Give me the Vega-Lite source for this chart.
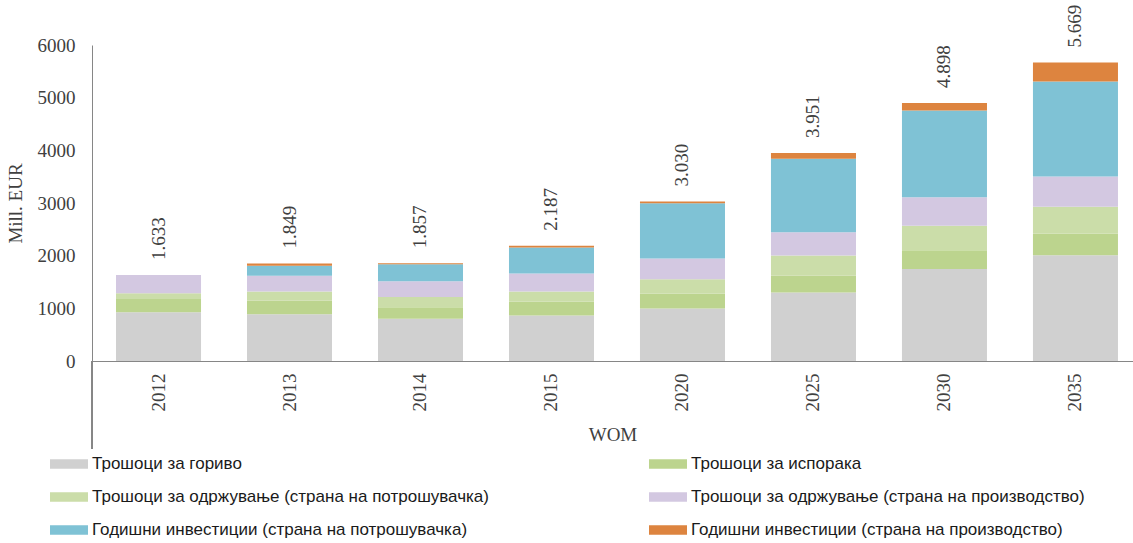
{
  "$schema": "https://vega.github.io/schema/vega-lite/v6.json",
  "width": 1041,
  "height": 316,
  "autosize": {"type": "none"},
  "padding": {"left": 92, "top": 45, "right": 0, "bottom": 182},
  "background": "white",
  "config": {
    "locale": {"number": {"decimal": ",", "thousands": ".", "grouping": [3], "currency": ["", " €"]}},
    "view": {"stroke": null},
    "font": "Liberation Serif"
  },
  "data": {"values": [
    {"year": 2012, "k": 1, "series": "Трошоци за гориво", "value": 925},
    {"year": 2012, "k": 2, "series": "Трошоци за испорака", "value": 250},
    {"year": 2012, "k": 3, "series": "Трошоци за одржување (страна на потрошувачка)", "value": 110},
    {"year": 2012, "k": 4, "series": "Трошоци за одржување (страна на производство)", "value": 348},
    {"year": 2012, "k": 5, "series": "Годишни инвестиции (страна на потрошувачка)", "value": 0},
    {"year": 2012, "k": 6, "series": "Годишни инвестиции (страна на производство)", "value": 0},
    {"year": 2013, "k": 1, "series": "Трошоци за гориво", "value": 890},
    {"year": 2013, "k": 2, "series": "Трошоци за испорака", "value": 255},
    {"year": 2013, "k": 3, "series": "Трошоци за одржување (страна на потрошувачка)", "value": 175},
    {"year": 2013, "k": 4, "series": "Трошоци за одржување (страна на производство)", "value": 300},
    {"year": 2013, "k": 5, "series": "Годишни инвестиции (страна на потрошувачка)", "value": 190},
    {"year": 2013, "k": 6, "series": "Годишни инвестиции (страна на производство)", "value": 39},
    {"year": 2014, "k": 1, "series": "Трошоци за гориво", "value": 800},
    {"year": 2014, "k": 2, "series": "Трошоци за испорака", "value": 220},
    {"year": 2014, "k": 3, "series": "Трошоци за одржување (страна на потрошувачка)", "value": 195},
    {"year": 2014, "k": 4, "series": "Трошоци за одржување (страна на производство)", "value": 300},
    {"year": 2014, "k": 5, "series": "Годишни инвестиции (страна на потрошувачка)", "value": 322},
    {"year": 2014, "k": 6, "series": "Годишни инвестиции (страна на производство)", "value": 20},
    {"year": 2015, "k": 1, "series": "Трошоци за гориво", "value": 865},
    {"year": 2015, "k": 2, "series": "Трошоци за испорака", "value": 265},
    {"year": 2015, "k": 3, "series": "Трошоци за одржување (страна на потрошувачка)", "value": 190},
    {"year": 2015, "k": 4, "series": "Трошоци за одржување (страна на производство)", "value": 340},
    {"year": 2015, "k": 5, "series": "Годишни инвестиции (страна на потрошувачка)", "value": 495},
    {"year": 2015, "k": 6, "series": "Годишни инвестиции (страна на производство)", "value": 32},
    {"year": 2020, "k": 1, "series": "Трошоци за гориво", "value": 995},
    {"year": 2020, "k": 2, "series": "Трошоци за испорака", "value": 285},
    {"year": 2020, "k": 3, "series": "Трошоци за одржување (страна на потрошувачка)", "value": 272},
    {"year": 2020, "k": 4, "series": "Трошоци за одржување (страна на производство)", "value": 395},
    {"year": 2020, "k": 5, "series": "Годишни инвестиции (страна на потрошувачка)", "value": 1048},
    {"year": 2020, "k": 6, "series": "Годишни инвестиции (страна на производство)", "value": 35},
    {"year": 2025, "k": 1, "series": "Трошоци за гориво", "value": 1300},
    {"year": 2025, "k": 2, "series": "Трошоци за испорака", "value": 320},
    {"year": 2025, "k": 3, "series": "Трошоци за одржување (страна на потрошувачка)", "value": 385},
    {"year": 2025, "k": 4, "series": "Трошоци за одржување (страна на производство)", "value": 440},
    {"year": 2025, "k": 5, "series": "Годишни инвестиции (страна на потрошувачка)", "value": 1395},
    {"year": 2025, "k": 6, "series": "Годишни инвестиции (страна на производство)", "value": 111},
    {"year": 2030, "k": 1, "series": "Трошоци за гориво", "value": 1745},
    {"year": 2030, "k": 2, "series": "Трошоци за испорака", "value": 360},
    {"year": 2030, "k": 3, "series": "Трошоци за одржување (страна на потрошувачка)", "value": 465},
    {"year": 2030, "k": 4, "series": "Трошоци за одржување (страна на производство)", "value": 540},
    {"year": 2030, "k": 5, "series": "Годишни инвестиции (страна на потрошувачка)", "value": 1645},
    {"year": 2030, "k": 6, "series": "Годишни инвестиции (страна на производство)", "value": 143},
    {"year": 2035, "k": 1, "series": "Трошоци за гориво", "value": 2010},
    {"year": 2035, "k": 2, "series": "Трошоци за испорака", "value": 410},
    {"year": 2035, "k": 3, "series": "Трошоци за одржување (страна на потрошувачка)", "value": 510},
    {"year": 2035, "k": 4, "series": "Трошоци за одржување (страна на производство)", "value": 575},
    {"year": 2035, "k": 5, "series": "Годишни инвестиции (страна на потрошувачка)", "value": 1800},
    {"year": 2035, "k": 6, "series": "Годишни инвестиции (страна на производство)", "value": 364}
  ]},
  "layer": [
    {
      "mark": {"type": "bar"},
      "encoding": {
        "x": {
          "field": "year", "type": "ordinal",
          "scale": {"paddingInner": 0.351, "paddingOuter": 0.149, "align": 0.615},
          "axis": {
            "title": "WOM", "labelAngle": -90, "labelPadding": 12, "ticks": false,
            "domainColor": "#868686", "labelFont": "Liberation Serif", "labelFontSize": 19,
            "labelColor": "#404040", "titleFont": "Liberation Serif", "titleFontSize": 19,
            "titleFontWeight": "normal", "titleColor": "#404040", "titlePadding": 14
          }
        },
        "y": {
          "field": "value", "type": "quantitative", "stack": "zero",
          "scale": {"domain": [0, 6000], "nice": false},
          "axis": {
            "title": "Mill. EUR", "values": [0, 1000, 2000, 3000, 4000, 5000, 6000], "format": "d",
            "ticks": false, "grid": false, "domainColor": "#868686", "labelPadding": 17,
            "labelFont": "Liberation Serif", "labelFontSize": 19, "labelColor": "#404040",
            "titleFont": "Liberation Serif", "titleFontSize": 19, "titleFontWeight": "normal",
            "titleColor": "#404040", "titlePadding": 12
          }
        },
        "color": {
          "field": "series", "type": "nominal",
          "scale": {
            "domain": [
              "Трошоци за гориво",
              "Трошоци за одржување (страна на потрошувачка)",
              "Годишни инвестиции (страна на потрошувачка)",
              "Трошоци за испорака",
              "Трошоци за одржување (страна на производство)",
              "Годишни инвестиции (страна на производство)"
            ],
            "range": ["#d0d0d0", "#cbdda9", "#7fc2d5", "#bcd48e", "#d3c8e1", "#dd843f"]
          },
          "legend": {
            "orient": "none", "legendX": -42, "legendY": 400, "columns": 2, "title": null,
            "symbolType": "M-1,-0.25H1V0.25H-1Z", "symbolSize": 1444, "symbolStrokeWidth": 0,
            "symbolOpacity": 1,
            "labelFont": "Liberation Sans", "labelFontSize": 17, "labelColor": "#1a1a1a",
            "labelOffset": 4, "rowPadding": 6, "columnPadding": 160, "labelLimit": 600
          }
        },
        "order": {"field": "k", "type": "quantitative"}
      }
    },
    {
      "transform": [{"aggregate": [{"op": "sum", "field": "value", "as": "total"}], "groupby": ["year"]}],
      "mark": {"type": "text", "angle": 270, "align": "left", "baseline": "middle", "dx": 15,
               "font": "Liberation Serif", "fontSize": 19, "color": "#404040"},
      "encoding": {
        "x": {"field": "year", "type": "ordinal"},
        "y": {"field": "total", "type": "quantitative"},
        "text": {"field": "total", "type": "quantitative", "format": ",.0f"}
      }
    },
    {
      "mark": {"type": "rule", "color": "#868686", "strokeWidth": 1, "clip": false},
      "encoding": {"x": {"value": 0}, "y": {"datum": 0}, "y2": {"datum": -1660}}
    }
  ]
}
